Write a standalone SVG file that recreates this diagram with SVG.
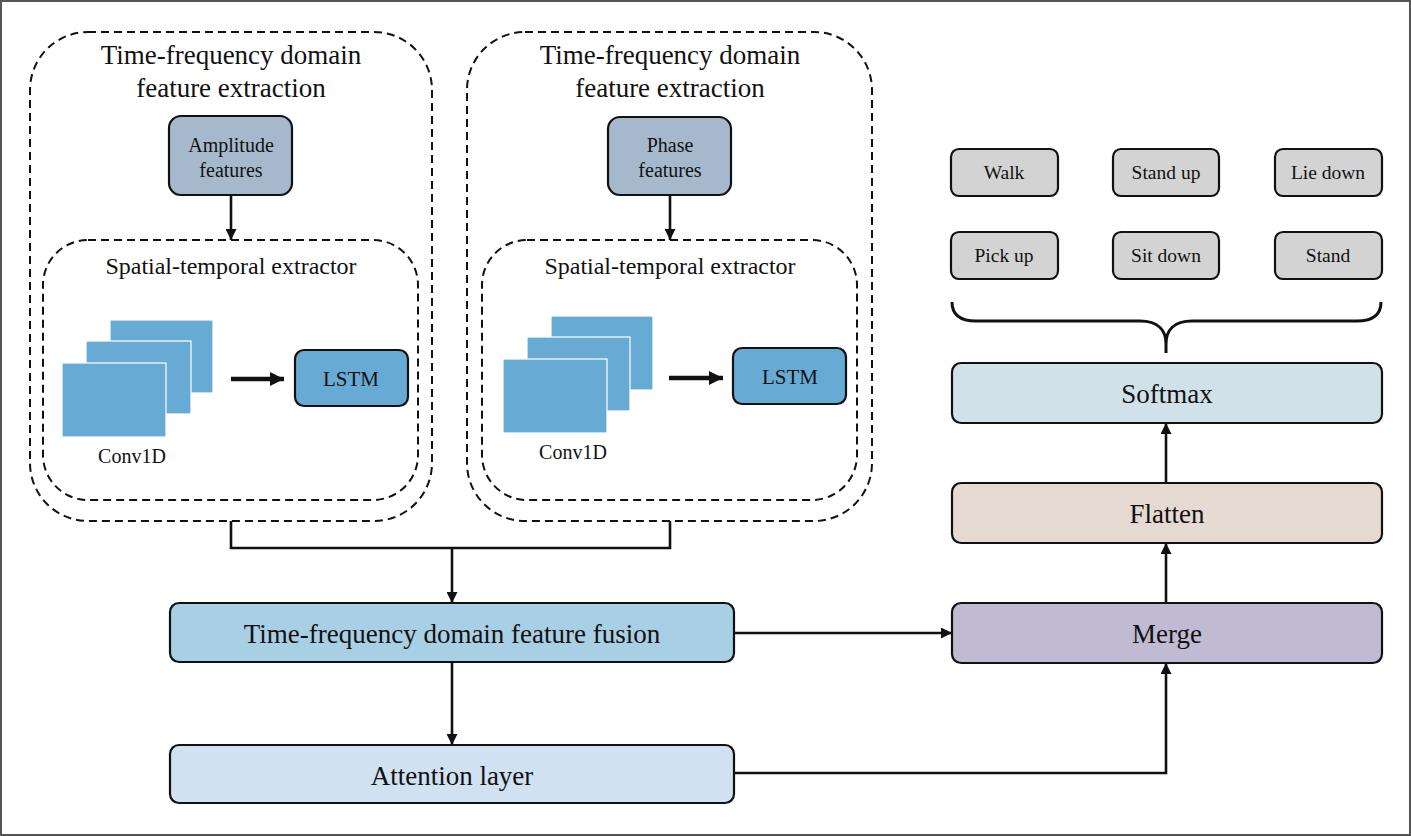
<svg xmlns="http://www.w3.org/2000/svg" width="1411" height="836" viewBox="0 0 1411 836">
<style>
.t{font-family:"Liberation Serif","Times New Roman",serif;fill:#111;text-anchor:middle}
.box{stroke:#111;stroke-width:2.2}
.dash{fill:none;stroke:#111;stroke-width:2;stroke-dasharray:8,5}
.conv{fill:#67abd5;stroke:#fff;stroke-width:1.2}
.line{fill:none;stroke:#111;stroke-width:2.6}
.cls{fill:#d3d3d3;stroke:#111;stroke-width:2.2}
</style>
<defs>
<marker id="ah" viewBox="0 0 10 10" refX="10" refY="5" markerWidth="11" markerHeight="11" markerUnits="userSpaceOnUse" orient="auto">
<path d="M0,0 L10,5 L0,10 z" fill="#111"/>
</marker>
<marker id="ahb" viewBox="0 0 10 10" refX="10" refY="5" markerWidth="14" markerHeight="14" markerUnits="userSpaceOnUse" orient="auto">
<path d="M0,0 L10,5 L0,10 z" fill="#111"/>
</marker>
</defs>
<rect x="1" y="1" width="1409" height="834" fill="#fff" stroke="#555" stroke-width="2"/>

<g id="extract-amp">
<rect class="dash" x="30" y="32" width="402" height="489" rx="58"/>
<text class="t" x="231" y="64" font-size="27">Time-frequency domain</text>
<text class="t" x="231" y="97" font-size="27">feature extraction</text>
</g>
<g id="amp-features">
<rect class="box" x="169" y="116" width="123" height="79" rx="12" fill="#a6b9cc"/>
<text class="t" x="231" y="152" font-size="20">Amplitude</text>
<text class="t" x="231" y="177" font-size="20">features</text>
</g>
<g id="st-amp">
<rect class="dash" x="43" y="240" width="375" height="260" rx="45"/>
<text class="t" x="231" y="274" font-size="24">Spatial-temporal extractor</text>
</g>
<g id="conv-amp">
<rect class="conv" x="110" y="320" width="103" height="73"/>
<rect class="conv" x="86" y="341" width="105" height="73"/>
<rect class="conv" x="62" y="363" width="104" height="74"/>
<text class="t" x="132" y="463" font-size="20">Conv1D</text>
</g>
<g id="lstm-amp">
<rect class="box" x="295" y="350" width="113" height="56" rx="9" fill="#67abd5"/>
<text class="t" x="351" y="386" font-size="21">LSTM</text>
</g>

<g id="extract-phase">
<rect class="dash" x="467" y="32" width="405" height="489" rx="58"/>
<text class="t" x="670" y="64" font-size="27">Time-frequency domain</text>
<text class="t" x="670" y="97" font-size="27">feature extraction</text>
</g>
<g id="phase-features">
<rect class="box" x="608" y="117" width="123" height="78" rx="12" fill="#a6b9cc"/>
<text class="t" x="670" y="152" font-size="20">Phase</text>
<text class="t" x="670" y="177" font-size="20">features</text>
</g>
<g id="st-phase">
<rect class="dash" x="482" y="240" width="375" height="260" rx="45"/>
<text class="t" x="670" y="274" font-size="24">Spatial-temporal extractor</text>
</g>
<g id="conv-phase">
<rect class="conv" x="551" y="316" width="102" height="74"/>
<rect class="conv" x="527" y="337" width="103" height="74"/>
<rect class="conv" x="503" y="359" width="104" height="74"/>
<text class="t" x="573" y="459" font-size="20">Conv1D</text>
</g>
<g id="lstm-phase">
<rect class="box" x="733" y="348" width="113" height="56" rx="9" fill="#67abd5"/>
<text class="t" x="790" y="384" font-size="21">LSTM</text>
</g>

<g id="fusion">
<rect class="box" x="170" y="603" width="564" height="59" rx="9" fill="#a9cfe4"/>
<text class="t" x="452" y="643" font-size="27">Time-frequency domain feature fusion</text>
</g>
<g id="attention">
<rect class="box" x="170" y="745" width="564" height="58" rx="9" fill="#d0e2f1"/>
<text class="t" x="452" y="785" font-size="27">Attention layer</text>
</g>
<g id="merge">
<rect class="box" x="952" y="603" width="430" height="60" rx="9" fill="#c0bbd3"/>
<text class="t" x="1167" y="643" font-size="27">Merge</text>
</g>
<g id="flatten">
<rect class="box" x="952" y="483" width="430" height="60" rx="9" fill="#e6d9d1"/>
<text class="t" x="1167" y="523" font-size="27">Flatten</text>
</g>
<g id="softmax">
<rect class="box" x="952" y="363" width="430" height="60" rx="9" fill="#d0e1ea"/>
<text class="t" x="1167" y="403" font-size="27">Softmax</text>
</g>

<g id="walk"><rect class="cls" x="951" y="149" width="107" height="47" rx="8"/><text class="t" x="1004" y="179" font-size="19.5">Walk</text></g>
<g id="standup"><rect class="cls" x="1113" y="149" width="106" height="47" rx="8"/><text class="t" x="1166" y="179" font-size="19.5">Stand up</text></g>
<g id="liedown"><rect class="cls" x="1275" y="149" width="107" height="47" rx="8"/><text class="t" x="1328" y="179" font-size="19.5">Lie down</text></g>
<g id="pickup"><rect class="cls" x="951" y="232" width="107" height="47" rx="8"/><text class="t" x="1004" y="262" font-size="19.5">Pick up</text></g>
<g id="sitdown"><rect class="cls" x="1113" y="232" width="106" height="47" rx="8"/><text class="t" x="1166" y="262" font-size="19.5">Sit down</text></g>
<g id="stand"><rect class="cls" x="1275" y="232" width="107" height="47" rx="8"/><text class="t" x="1328" y="262" font-size="19.5">Stand</text></g>

<g id="connectors">
<line class="line" x1="231" y1="195" x2="231" y2="240" marker-end="url(#ah)"/>
<line class="line" x1="670" y1="195" x2="670" y2="240" marker-end="url(#ah)"/>
<line x1="231" y1="379" x2="284" y2="379" stroke="#111" stroke-width="4.5" marker-end="url(#ahb)"/>
<line x1="669" y1="378" x2="723" y2="378" stroke="#111" stroke-width="4.5" marker-end="url(#ahb)"/>
<polyline class="line" points="231,521 231,548 670,548 670,521"/>
<line class="line" x1="452" y1="548" x2="452" y2="603" marker-end="url(#ah)"/>
<line class="line" x1="452" y1="662" x2="452" y2="745" marker-end="url(#ah)"/>
<line class="line" x1="734" y1="633" x2="952" y2="633" marker-end="url(#ah)"/>
<polyline class="line" points="734,773 1166,773 1166,663" marker-end="url(#ah)"/>
<line class="line" x1="1166" y1="603" x2="1166" y2="543" marker-end="url(#ah)"/>
<line class="line" x1="1166" y1="483" x2="1166" y2="423" marker-end="url(#ah)"/>
<path d="M952,302 C952,315 960,321 976,321 L1140,321 C1158,321 1166,330 1166,344 L1166,353 M1381,302 C1381,315 1373,321 1357,321 L1192,321 C1174,321 1166,330 1166,344" fill="none" stroke="#111" stroke-width="3"/>
</g>
</svg>
